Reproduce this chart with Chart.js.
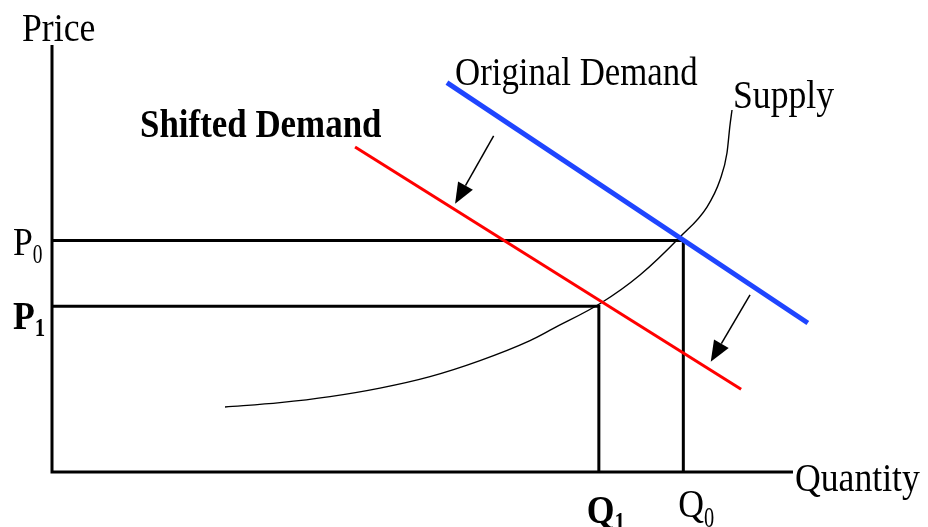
<!DOCTYPE html>
<html><head><meta charset="utf-8">
<script src="https://cdn.jsdelivr.net/npm/chart.js@4/dist/chart.umd.min.js"></script>
<style>html,body{margin:0;padding:0;background:#fff}#wrap{width:928px;height:527px;position:relative}</style>
</head><body><div id="wrap"><canvas id="c"></canvas></div>
<script>
// Equilibrium values (abstract units)
const Q0 = 85.2, Q1 = 73.8;
const P0 = 54.2, P1 = 38.8;
const axisMax = [100, 100];
// Demand curves [quantity, price]
const originalDemand = [[53.3, 91.2], [102.0, 34.9]];
const shiftedDemand = [[40.9, 76.1], [93.0, 19.4]];
// Supply curve
const supplyQ = [23.35, 30.77, 37.52, 44.26, 51.01, 57.76, 64.51, 67.61, 74.09, 79.35, 84.75, 88.39, 90.15, 91.09, 91.50, 91.77];
const supplyP = [15.22, 16.25, 17.66, 19.65, 22.34, 26.09, 30.77, 33.58, 39.58, 46.14, 55.04, 62.06, 68.38, 74.71, 81.26, 84.78];
// Shift arrows [from, to]
const arrows = [[[59.6, 78.7], [54.4, 62.8]], [[94.2, 41.5], [88.9, 25.8]]];

const pts = a => a.map(p => ({x: p[0], y: p[1]}));
const SERIF = '"Liberation Serif","Times New Roman",serif';

function txt(ctx, s, px, py, size, bold, sx) {
  ctx.save(); ctx.translate(px, py); ctx.scale(sx, 1);
  ctx.font = (bold ? 'bold ' : '') + size + 'px ' + SERIF;
  ctx.textAlign = 'left'; ctx.textBaseline = 'alphabetic'; ctx.fillStyle = '#000';
  ctx.fillText(s, 0, 0);
  const w = ctx.measureText(s).width * sx;
  ctx.restore();
  return w;
}
function sub(ctx, main, s, px, py, size, subSize, bold, sx, subSx, dy) {
  const w = txt(ctx, main, px, py, size, bold, sx);
  txt(ctx, s, px + w, py + dy, subSize, bold, subSx);
}

const annot = {
  id: 'annot',
  afterDatasetsDraw(chart) {
    const {ctx, scales: {x, y}} = chart;
    arrows.forEach(([f, t]) => {
      const x0 = x.getPixelForValue(f[0]), y0 = y.getPixelForValue(f[1]);
      const x1 = x.getPixelForValue(t[0]), y1 = y.getPixelForValue(t[1]);
      const ang = Math.atan2(y1 - y0, x1 - x0);
      const hl = 21, hw = 8.5;
      const bx = x1 - hl * Math.cos(ang), by = y1 - hl * Math.sin(ang);
      ctx.save();
      ctx.strokeStyle = '#000'; ctx.lineWidth = 1.5;
      ctx.beginPath(); ctx.moveTo(x0, y0); ctx.lineTo(bx, by); ctx.stroke();
      ctx.fillStyle = '#000';
      ctx.beginPath();
      ctx.moveTo(x1, y1);
      ctx.lineTo(bx + hw * Math.sin(ang), by - hw * Math.cos(ang));
      ctx.lineTo(bx - hw * Math.sin(ang), by + hw * Math.cos(ang));
      ctx.closePath(); ctx.fill();
      ctx.restore();
    });
    const sx = 0.87;
    const x0px = x.getPixelForValue(0), y0px = y.getPixelForValue(0);
    txt(ctx, 'Price', x0px - 30, y.getPixelForValue(axisMax[1]) - 4, 41, false, sx);
    txt(ctx, 'Quantity', x.getPixelForValue(axisMax[0]) + 2, y0px + 19, 41, false, sx);
    txt(ctx, 'Original Demand', 455, 85, 40, false, sx);
    txt(ctx, 'Supply', 733, 108, 41, false, sx);
    txt(ctx, 'Shifted Demand', 140, 137, 39, true, 0.895);
    sub(ctx, 'P', '0', 13, y.getPixelForValue(P0) + 14.5, 41, 27, false, sx, 0.72, 8);
    sub(ctx, 'P', '1', 13, y.getPixelForValue(P1) + 22.5, 41, 26, true, sx, 0.8, 7);
    sub(ctx, 'Q', '1', x.getPixelForValue(Q1) - 12, 523, 41, 26, true, sx, 0.8, 7);
    sub(ctx, 'Q', '0', x.getPixelForValue(Q0) - 5, 516.5, 41, 30, false, sx, 0.68, 10);
  }
};

const blk = {borderColor: '#000', borderWidth: 3, pointRadius: 0, showLine: true, fill: false, tension: 0};
new Chart(document.getElementById('c'), {
  type: 'scatter',
  data: {
    datasets: [
      Object.assign({label: 'Original Demand', data: pts(originalDemand)}, blk, {borderColor: '#1f45ff', borderWidth: 5, order: 1}),
      Object.assign({label: 'Shifted Demand', data: pts(shiftedDemand)}, blk, {borderColor: '#ff0000', borderWidth: 3, order: 2}),
      Object.assign({label: 'Supply', data: supplyQ.map((q, i) => ({x: q, y: supplyP[i]}))}, blk, {borderWidth: 1.4, cubicInterpolationMode: 'monotone', order: 3}),
      Object.assign({label: 'P0 guide', data: [{x: 0, y: P0}, {x: Q0, y: P0}, {x: Q0, y: 0}]}, blk, {order: 4}),
      Object.assign({label: 'P1 guide', data: [{x: 0, y: P1}, {x: Q1, y: P1}, {x: Q1, y: 0}]}, blk, {order: 5}),
      Object.assign({label: 'axes', data: [{x: 0, y: axisMax[1]}, {x: 0, y: 0}, {x: axisMax[0], y: 0}]}, blk, {order: 6})
    ]
  },
  options: {
    responsive: true, maintainAspectRatio: false, animation: false,
    layout: {padding: 0},
    plugins: {legend: {display: false}, tooltip: {enabled: false}},
    scales: {
      x: {type: 'linear', display: false, min: -7.018, max: 118.22},
      y: {type: 'linear', display: false, min: -12.88, max: 110.54}
    }
  },
  plugins: [annot]
});
</script></body></html>
